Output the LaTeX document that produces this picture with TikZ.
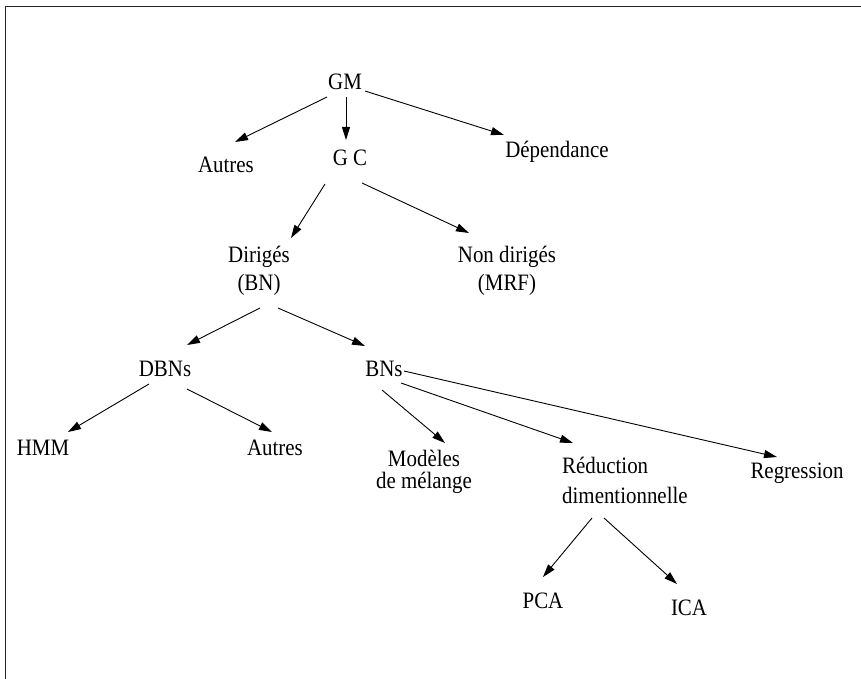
\documentclass[tikz,border=0pt]{standalone}
\usepackage{fontspec}
\setmainfont{Liberation Serif}[FakeStretch=0.89]
\usetikzlibrary{arrows.meta,calc}
\begin{document}
\begin{tikzpicture}[x=1pt,y=-1pt,
  lbl/.style={inner sep=0pt,anchor=base,font=\fontsize{23.5}{24}\selectfont,align=center},
  arr/.style={line width=0.9pt,-{Triangle[length=13pt,width=8pt]}},
  frame/.style={line width=1pt,draw=black!85}]
\useasboundingbox (0,0) rectangle (861,679);
% open frame: top and left edges only
\draw[frame] (861,7) -- (5,7) -- (5,679);

% labels (base anchor = baseline of the last line)
\node[lbl] (GM)   at (345,90)  {GM};
\node[lbl] (Aut1) at (226,172) {Autres};
\node[lbl] (GC)   at (350,166) {G C};
\node[lbl] (Dep)  at (557,158) {Dépendance};
\node[lbl] (Dir)  at (259,290) {Dirigés\\[4pt](BN)};
\node[lbl] (Non)  at (507,290) {Non dirigés\\[4pt](MRF)};
\node[lbl] (DBNs) at (165,376) {DBNs};
\node[lbl] (BNs)  at (384,376) {BNs};
\node[lbl] (HMM)  at (43,455)  {HMM};
\node[lbl] (Aut2) at (275,455) {Autres};
\node[lbl] (Mod)  at (424,488) {Modèles\\[-2pt]de mélange};
\node[lbl,anchor=base west,align=left] (Red) at (562,503) {Réduction\\[6pt]dimentionnelle};
\node[lbl] (Reg)  at (797,478) {Regression};
\node[lbl] (PCA)  at (543,608) {PCA};
\node[lbl] (ICA)  at (689,615) {ICA};

% connectors
\draw[arr] ($(GM.base)+(-18,7)$)  -- ($(Aut1.base)+(9,-30)$);
\draw[arr] ($(GM.base)+(1,7)$)    -- ($(GC.base)+(-4,-26)$);
\draw[arr] ($(GM.base)+(20,1)$)   -- ($(Dep.base)+(-53,-23)$);
\draw[arr] ($(GC.base)+(-25,18)$) -- ($(Dir.base)+(32,-52)$);
\draw[arr] ($(GC.base)+(12,17)$)  -- ($(Non.base)+(-38,-57)$);
\draw[arr] ($(Dir.base)+(1,18)$)  -- ($(DBNs.base)+(22,-31)$);
\draw[arr] ($(Dir.base)+(19,18)$) -- ($(BNs.base)+(-19,-30)$);
\draw[arr] ($(DBNs.base)+(-16,8)$) -- ($(HMM.base)+(25,-23)$);
\draw[arr] ($(DBNs.base)+(22,13)$) -- ($(Aut2.base)+(-3,-23)$);
\draw[arr] ($(BNs.base)+(-2,14)$) -- ($(Mod.base)+(21,-45)$);
\draw[arr] ($(BNs.base)+(17,7)$)  -- ($(Red.base west)+(11,-60)$);
\draw[arr] ($(BNs.base)+(20,-5)$) -- ($(Reg.base)+(-20,-21)$);
\draw[arr] ($(Red.base west)+(30,15)$) -- ($(PCA.base)+(0,-31)$);
\draw[arr] ($(Red.base west)+(42,15)$) -- ($(ICA.base)+(-12,-31)$);
\end{tikzpicture}
\end{document}
